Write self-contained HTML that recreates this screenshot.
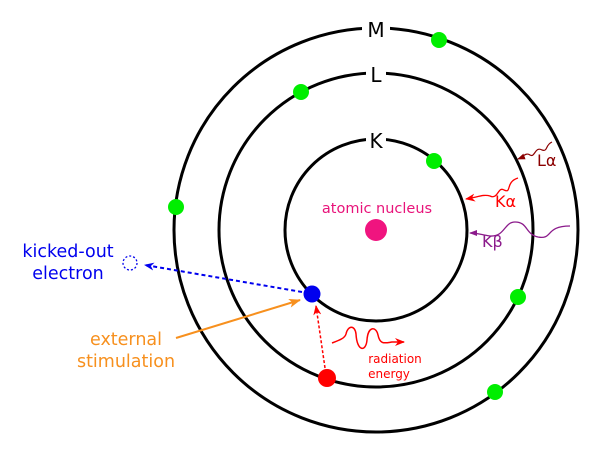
<!DOCTYPE html>
<html><head><style>body{margin:0;background:#fff}</style></head><body>
<svg width="600" height="450" viewBox="0 0 600 450" xmlns="http://www.w3.org/2000/svg" font-family="DejaVu Sans, Liberation Sans, sans-serif">
<defs>
<marker id="ab" markerWidth="10" markerHeight="8" refX="9" refY="4" orient="auto" markerUnits="userSpaceOnUse"><path d="M0,0 L10,4 L0,8 L3,4z" fill="#0000ee"/></marker>
<marker id="ar" markerWidth="10" markerHeight="8" refX="9" refY="4" orient="auto" markerUnits="userSpaceOnUse"><path d="M0,0 L10,4 L0,8 L3,4z" fill="#f00"/></marker>
<marker id="ao" markerWidth="12" markerHeight="9" refX="11" refY="4.5" orient="auto" markerUnits="userSpaceOnUse"><path d="M0,0 L12,4.5 L0,9 L3,4.5z" fill="#f7901e"/></marker>
<marker id="ad" markerWidth="8" markerHeight="6" refX="7" refY="3" orient="auto" markerUnits="userSpaceOnUse"><path d="M0,0 L8,3 L0,6z" fill="#8b0000"/></marker>
<marker id="ap" markerWidth="8" markerHeight="6" refX="7" refY="3" orient="auto" markerUnits="userSpaceOnUse"><path d="M0,0 L8,3 L0,6z" fill="#8b1a8b"/></marker>
</defs>
<g fill="none" stroke="#000" stroke-width="3">
<circle cx="376" cy="230" r="202"/>
<circle cx="376" cy="230" r="157"/>
<circle cx="376" cy="230" r="91"/>
</g>
<rect x="362" y="18" width="28" height="22" fill="#fff"/>
<rect x="366" y="63" width="20" height="22" fill="#fff"/>
<rect x="366" y="128" width="20" height="22" fill="#fff"/>
<g font-size="20" text-anchor="middle" fill="#000">
<text x="376" y="37">M</text><text x="376" y="82">L</text><text x="376" y="148">K</text>
</g>
<g fill="#0e0">
<circle cx="439" cy="40" r="8"/><circle cx="301" cy="92" r="8"/><circle cx="434" cy="161" r="8"/>
<circle cx="176" cy="207" r="8"/><circle cx="518" cy="297" r="8"/><circle cx="495" cy="392" r="8"/>
</g>
<circle cx="376" cy="230" r="11" fill="#f0147f"/>
<text x="377" y="213" font-size="14.5" fill="#e8137a" text-anchor="middle">atomic nucleus</text>
<circle cx="312" cy="294" r="8.5" fill="#00e"/>
<circle cx="327" cy="378" r="9" fill="#f00"/>
<circle cx="130" cy="263" r="7" fill="none" stroke="#00e" stroke-width="1.3" stroke-dasharray="2,2"/>
<line x1="302" y1="292" x2="145" y2="265" stroke="#00e" stroke-width="2" stroke-dasharray="4,3" marker-end="url(#ab)"/>
<line x1="325" y1="368" x2="316" y2="306" stroke="#f00" stroke-width="1.5" stroke-dasharray="3,2" marker-end="url(#ar)"/>
<line x1="176" y1="338" x2="300" y2="300" stroke="#f7901e" stroke-width="2" marker-end="url(#ao)"/>
<text x="68" y="257" font-size="17.5" fill="#00e" text-anchor="middle">kicked-out</text>
<text x="68" y="279" font-size="17.5" fill="#00e" text-anchor="middle">electron</text>
<text x="126" y="345" font-size="17.5" fill="#f7901e" text-anchor="middle">external</text>
<text x="126" y="367" font-size="17.5" fill="#f7901e" text-anchor="middle">stimulation</text>
<path d="M332,343 C340,340 345,338 346,334 C348,325 355,325 356,334 C357,352 366,352 367,340 C368,326 376,326 378,335 C380,345 385,343 392,342 L404,342" fill="none" stroke="#f00" stroke-width="1.5" marker-end="url(#ar)"/>
<text x="395" y="363" font-size="12" fill="#f00" text-anchor="middle">radiation</text>
<text x="389" y="378" font-size="12" fill="#f00" text-anchor="middle">energy</text>
<path d="M552,142 C545,145 548,152 542,150 C535,146 535,158 530,155 C526,152 523,157 518,159" fill="none" stroke="#8b0000" stroke-width="1.2" marker-end="url(#ad)"/>
<text x="537" y="166" font-size="16" fill="#8b0000">Lα</text>
<path d="M518,178 C505,182 512,194 504,190 C498,186 498,200 490,196 C484,194 478,197 466,199" fill="none" stroke="#f00" stroke-width="1.3" marker-end="url(#ar)"/>
<text x="495" y="207" font-size="16" fill="#f00">Kα</text>
<path d="M570,226 C545,226 553,240 538,237 C525,234 528,222 515,222 C504,222 505,237 490,236 C482,235 478,233 470,233" fill="none" stroke="#8b1a8b" stroke-width="1.3" marker-end="url(#ap)"/>
<text x="482" y="247" font-size="16" fill="#8b1a8b">Kβ</text>
</svg>
</body></html>
